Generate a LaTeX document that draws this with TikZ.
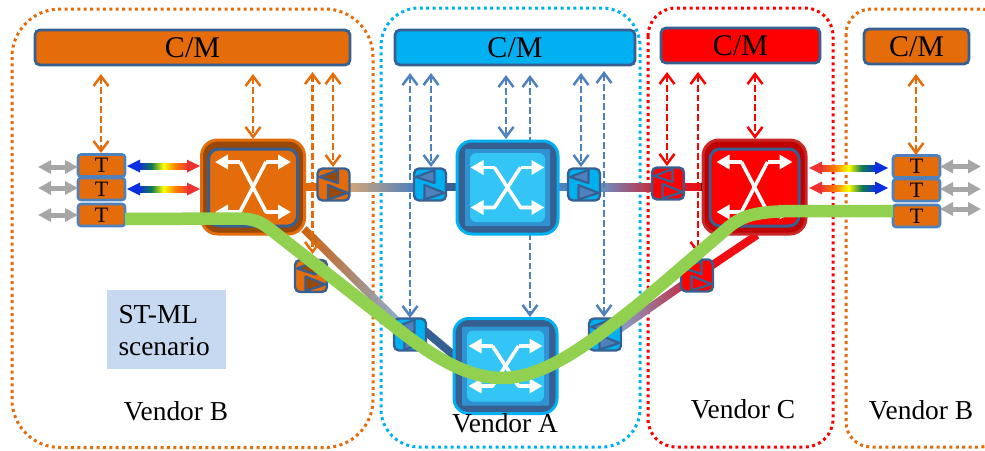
\documentclass[tikz,border=0pt]{standalone}
\usepackage{fontspec}
\setmainfont{Liberation Serif}
\usetikzlibrary{arrows.meta,calc}
\definecolor{vorange}{HTML}{E46C0A}
\definecolor{vbrown}{HTML}{984807}
\definecolor{vblue}{HTML}{00B0F0}
\definecolor{vsteel}{HTML}{376092}
\definecolor{vmid}{HTML}{4F81BD}
\definecolor{vred}{HTML}{FF0000}
\definecolor{vdred}{HTML}{C00000}
\definecolor{vgreen}{HTML}{92D050}
\definecolor{vsky}{HTML}{33C5F5}
\definecolor{vring}{HTML}{2E93D0}
\definecolor{vgrey}{HTML}{A6A6A6}
\definecolor{vnote}{HTML}{C6D9F1}
\definecolor{rbb}{HTML}{0A2FE0}
\definecolor{rbg}{HTML}{0F7A50}
\definecolor{rbr}{HTML}{EE3230}
\pgfdeclarehorizontalshading{rainbowbr}{100bp}{color(0bp)=(rbb);color(25bp)=(rbb);color(38bp)=(rbg);color(50bp)=(yellow);color(62bp)=(orange);color(75bp)=(rbr);color(100bp)=(rbr)}
\pgfdeclarehorizontalshading{rainbowrb}{100bp}{color(0bp)=(rbr);color(25bp)=(rbr);color(38bp)=(orange);color(50bp)=(yellow);color(62bp)=(rbg);color(75bp)=(rbb);color(100bp)=(rbb)}
\tikzset{
  x=1pt,y=-1pt,
  every node/.style={font=\fontsize{27.4}{32}\selectfont,inner sep=0pt,outer sep=0pt},
  region/.style 2 args={draw=#1,line width=3pt,dash pattern=on 3pt off 3.4pt,rounded corners=#2pt},
  cmbar/.style={draw=vsteel,line width=2.8pt,fill=#1,rounded corners=5pt,anchor=north west,font=\fontsize{30}{32}\selectfont},
  tbox/.style={draw=vmid,line width=2.6pt,fill=vorange,rounded corners=3pt,minimum width=47pt,minimum height=22pt,font=\fontsize{22}{24}\selectfont},
  ctl/.style={draw=#1,line width=2.5pt,dash pattern=on 6.7pt off 3pt,{Straight Barb[length=10pt,width=15pt,line width=2.5pt]}-{Straight Barb[length=10pt,width=15pt,line width=2.5pt]}},
  greyarr/.style={draw=vgrey,line width=5pt,{Triangle[length=13pt,width=13pt]}-{Triangle[length=13pt,width=13pt]}},
  link/.style={draw=#1,line width=8pt},
  xline/.style={white,line width=3.6pt,line join=round,-{Triangle[length=13pt,width=14pt]}},
  pics/amp/.style 2 args={code={
    \draw[vsteel,line width=2.4pt,fill=#1,rounded corners=5pt] (-16,-16) rectangle (16,16);
    \draw[vsteel,line width=2.2pt,fill=#2,line join=round] (-14,-7.5)--(4.5,-14.5)--(4.5,-1.5)--cycle;
    \draw[vsteel,line width=2.2pt,fill=#2,line join=round] (14.5,8.5)--(-5.5,0.5)--(-5.5,15)--cycle;
  }},
}
% white crossing arrows: centre, half width of tips, half height
\newcommand{\xmark}[3]{%
  \begin{scope}[shift={(#1)}]
    \draw[xline] (-13,-#3)--(13,#3)--(#2,#3);
    \draw[xline] (13,-#3)--(-13,#3)--(-#2,#3);
    \draw[xline] (-13,-#3)--(-#2,-#3);
    \draw[xline] (13,-#3)--(#2,-#3);
  \end{scope}}
% orange/red switch
\newcommand{\vswitch}[8]{%
  \node[draw=#5,line width=3pt,fill=#6,rounded corners=16pt,minimum width=#3pt,minimum height=#4pt] (#1) at (#2) {};
  \draw[#7,line width=3pt,fill=#8,rounded corners=10pt] ($(#2)+(-#3/2+7,-#4/2+9)$) rectangle ($(#2)+(#3/2-7,#4/2-8)$);
  \xmark{#2}{38}{25}
}
% blue switch
\newcommand{\bswitch}[4]{%
  \node[draw=vblue,line width=3pt,fill=vsteel,rounded corners=15pt,minimum width=#3pt,minimum height=#4pt] (#1) at (#2) {};
  \fill[vring,rounded corners=1pt] ($(#2)+(-#3/2+8,-#4/2+8)$) rectangle ($(#2)+(#3/2-8,#4/2-8)$);
  \fill[vsky,rounded corners=6pt] ($(#2)+(-#3/2+13,-#4/2+12)$) rectangle ($(#2)+(#3/2-13,#4/2-12)$);
  \xmark{#2}{37}{20}
}
% shaded link between two named ends
\newcommand{\gradlink}[5]{%
  \path let \p1=(#1),\p2=(#2),\n1={atan2(\y2-\y1,\x2-\x1)},\n2={veclen(\y2-\y1,\x2-\x1)} in
    [shift={(\p1)},rotate=\n1,shading=axis,left color=#3,middle color=#4,right color=#5,shading angle=90]
    [shade] (0pt,-4pt) rectangle (\n2,4pt);
}
\begin{document}
\begin{tikzpicture}
\useasboundingbox (0,0) rectangle (985,450);
% vendor regions
\draw[region={vorange}{48}] (12,9) rectangle (373,447.5);
\draw[region={vblue}{38}] (381,8) rectangle (640,447);
\draw[region={vred}{28}] (648,8) rectangle (833,447);
\begin{scope}
\clip (840,0) rectangle (985,450);
\draw[region={vorange}{25}] (846,9) rectangle (1006,447);
\end{scope}
% C/M bars
\node[cmbar=vorange,minimum width=315pt,minimum height=35pt] (cm1) at (35,30) {C/M};
\node[cmbar=vblue,minimum width=240pt,minimum height=35pt] (cm2) at (395,30) {C/M};
\node[cmbar=vred,minimum width=159pt,minimum height=35pt] (cm3) at (661,28) {C/M};
\node[cmbar=vorange,minimum width=105pt,minimum height=35pt] (cm4) at (864,29) {C/M};
% transponders
\node[tbox] (t1) at (101.5,165.5) {T};
\node[tbox] (t2) at (101.5,189) {T};
\node[tbox] (t3) at (101.5,215) {T};
\node[tbox] (t4) at (916.5,166.5) {T};
\node[tbox] (t5) at (916.5,190) {T};
\node[tbox] (t6) at (916.5,216) {T};
% free ends of grey arrows
\coordinate (g1) at (38,167); \coordinate (g2) at (38,188); \coordinate (g3) at (38,215);
\coordinate (g4) at (981,166.5); \coordinate (g5) at (981,189); \coordinate (g6) at (981,209);
\draw[greyarr] (g1)--(t1.west|-g1);
\draw[greyarr] (g2)--(t2.west|-g2);
\draw[greyarr] (g3)--(t3.west|-g3);
\draw[greyarr] (t4.east|-g4)--(g4);
\draw[greyarr] (t5.east|-g5)--(g5);
\draw[greyarr] (t6.east|-g6)--(g6);
% anchors for control lines
\coordinate (a1) at (312.5,254); \coordinate (a1t) at (312.5,72);
\coordinate (a2t) at (333,72); \coordinate (a2) at (333,167);
\coordinate (b1t) at (410,73); \coordinate (b1) at (410,318);
\coordinate (b2t) at (431,73); \coordinate (b2) at (431,167);
\coordinate (b3t) at (506,75); \coordinate (b3) at (506,139);
\coordinate (b4t) at (530,75); \coordinate (b4) at (530,317);
\coordinate (b5t) at (581,73); \coordinate (b5) at (581,167);
\coordinate (b6t) at (604,71); \coordinate (b6) at (604,317);
\coordinate (r1t) at (667,72); \coordinate (r1) at (667,166);
\coordinate (r2t) at (698,72); \coordinate (r2) at (698,254);
\coordinate (r3t) at (755,72); \coordinate (r3) at (755,139);
\coordinate (o1t) at (101,74); \coordinate (o1) at (101,153);
\coordinate (o2t) at (253,74); \coordinate (o2) at (253,139);
\coordinate (o3t) at (916,74); \coordinate (o3) at (916,155);
% named connection points of the links
\coordinate (la) at (305,187); \coordinate (lb) at (320,187);
\coordinate (lc) at (350,187); \coordinate (ld) at (414,187);
\coordinate (le) at (446,187); \coordinate (lf) at (458,187);
\coordinate (lg) at (557,187); \coordinate (lh) at (569,187);
\coordinate (li) at (600,187); \coordinate (lj) at (652,187);
\coordinate (lk) at (684,187); \coordinate (ll) at (702,187);
\coordinate (da) at (304,229); \coordinate (db) at (398,322);
\coordinate (dc) at (425,331); \coordinate (dd) at (457,358);
\coordinate (ec) at (618,330); \coordinate (ed) at (684,284);
\coordinate (ee) at (708,268); \coordinate (ef) at (757,235);
% links
\draw[link=vorange] (la)--(lb);
\gradlink{lc}{ld}{brown!70!white}{vmid!65!white}{vmid}
\draw[link=vsteel] (le)--(lf);
\draw[link=vmid] (lg)--(lh);
\gradlink{li}{lj}{vmid!85!white}{violet!35!vmid!75!white}{red!65!vmid}
\draw[link=red!85!vmid] (lk)--(ll);
\draw[black,line width=2.5pt] ($(ll)+(0,-4)$)--($(ll)+(0,4)$);
\gradlink{da}{db}{vorange!90!black}{brown!60!white}{vmid!65!white}
\draw[link=vsteel] (dc)--(dd);
\gradlink{ec}{ed}{vmid!70!white}{violet!35!vmid!75!white}{red!65!vmid}
\draw[link=red!90!vmid] (ee)--(ef);
% control lines
\draw[ctl=vorange] (o1t)--(o1);
\draw[ctl=vorange] (o2t)--(o2);
\draw[ctl=vorange] (a1t)--(a1);
\draw[ctl=vorange] (a2t)--(a2);
\draw[ctl=vorange] (o3t)--(o3);
\draw[ctl=vmid] (b1t)--(b1);
\draw[ctl=vmid] (b2t)--(b2);
\draw[ctl=vmid] (b3t)--(b3);
\draw[ctl=vmid] (b4t)--(b4);
\draw[ctl=vmid] (b5t)--(b5);
\draw[ctl=vmid] (b6t)--(b6);
\draw[ctl=vred] (r1t)--(r1);
\draw[ctl=vred] (r2t)--(r2);
\draw[ctl=vred] (r3t)--(r3);
% rainbow arrows
\coordinate (ra) at (163.5,166); \coordinate (rb) at (163.5,189);
\coordinate (rc) at (848.5,168); \coordinate (rd) at (848.5,188);
\foreach \c/\s/\w in {ra/rainbowbr/74,rb/rainbowbr/74,rc/rainbowrb/80,rd/rainbowrb/80}{
  \path[shading=\s] ($(\c)+(-\w/2+12,-3)$) rectangle ($(\c)+(\w/2-12,3)$);
}
\fill[rbb] (127,166)--(140,159.5)--(140,172.5)--cycle;
\fill[rbb] (127,189)--(140,182.5)--(140,195.5)--cycle;
\fill[rbr] (200,166)--(187,159.5)--(187,172.5)--cycle;
\fill[rbr] (200,189)--(187,182.5)--(187,195.5)--cycle;
\fill[rbr] (809,168)--(822,161.5)--(822,174.5)--cycle;
\fill[rbr] (809,188)--(822,181.5)--(822,194.5)--cycle;
\fill[rbb] (888,168)--(875,161.5)--(875,174.5)--cycle;
\fill[rbb] (888,188)--(875,181.5)--(875,194.5)--cycle;
% switches
\vswitch{s1}{253,187}{103}{94}{vorange}{vbrown}{vsteel}{vorange}
\bswitch{s2}{507.5,187.5}{101}{93}
\vswitch{s3}{754.5,187}{103}{94}{vdred!85!white}{vdred}{vsteel}{vred}
\bswitch{s4}{505.5,366}{103}{95}
% amplifier boxes
\pic at (333.5,184.5) {amp={vorange}{vbrown}};
\pic at (311,276) {amp={vorange}{vbrown}};
\pic at (430,184.5) {amp={vblue}{vmid}};
\pic at (584,184.5) {amp={vblue}{vmid}};
\pic at (668,183.5) {amp={vred}{vred}};
\pic at (697,275.5) {amp={vred}{vred}};
\pic at (410,334.5) {amp={vblue}{vmid}};
\pic at (605,334.5) {amp={vblue}{vmid}};
% service path
\draw[vgreen,line width=12.5pt,line join=round]
  ($(t3.east)+(0,4)$) -- (238,218.5) .. controls (252,218.5) and (260,221) .. (270,229)
  -- (380,315) .. controls (420,347) and (460,378) .. (502,378)
  .. controls (545,378) and (590,343) .. (640,303)
  -- (730,226) .. controls (745,214) and (760,212) .. (790,211) -- ($(t6.west)+(0,-5)$);
% note and labels
\node[fill=vnote,minimum width=119pt,minimum height=79pt] (note) at (166.5,329.5) {};
\node[align=left,anchor=west,font=\fontsize{27.4}{32}\selectfont] (notetxt) at (118.5,331) {ST-ML\\scenario};
\node (vb1) at (176,411) {Vendor B};
\node (va) at (505,423) {Vendor A};
\node (vc) at (743,409) {Vendor C};
\node (vb2) at (921,410) {Vendor B};
\end{tikzpicture}
\end{document}
